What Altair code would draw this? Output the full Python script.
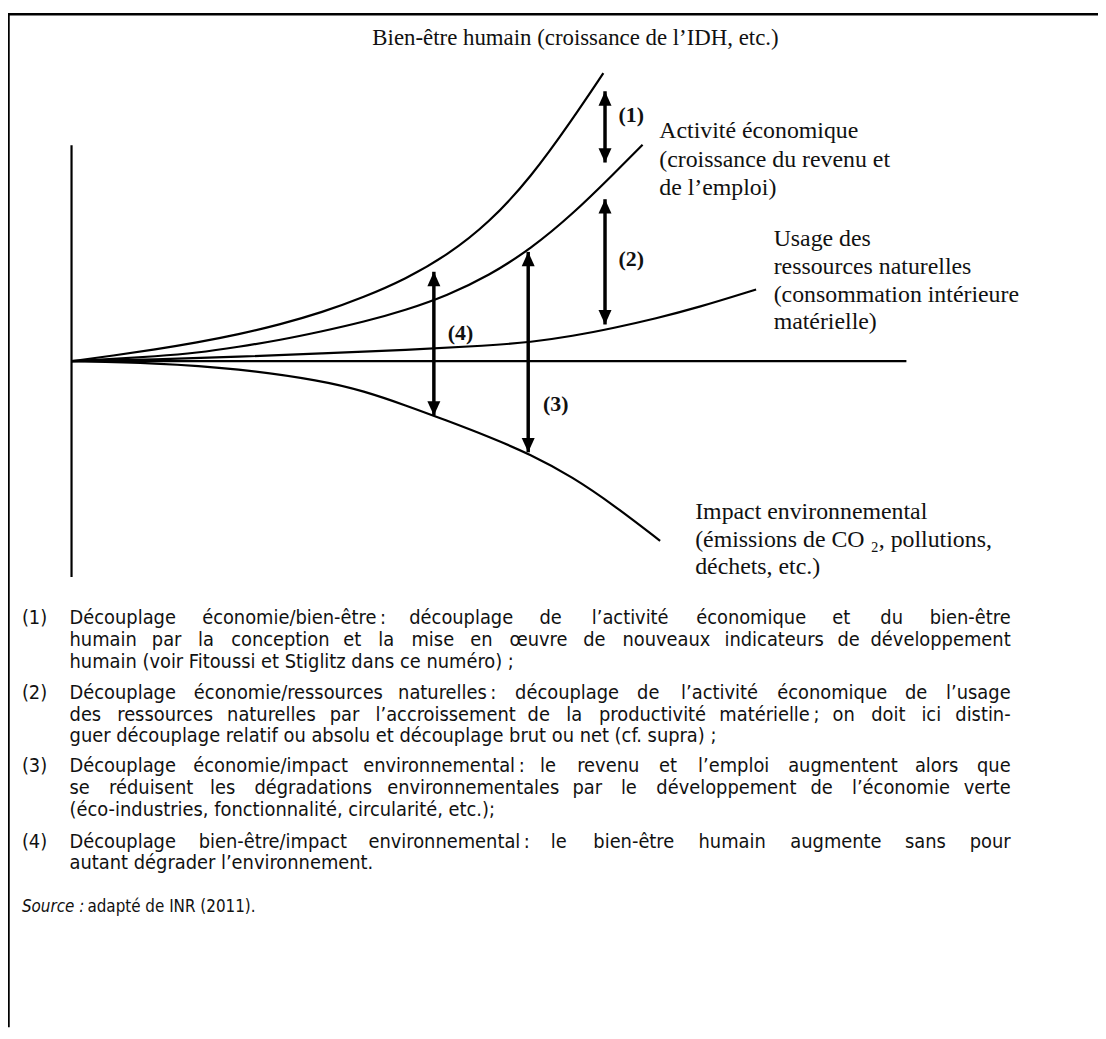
import altair as alt
import pandas as pd

# ---------------- data ----------------
bien_x = [0, 5, 10, 15, 20, 25, 30, 35, 40, 45, 50, 55, 60, 63.7]
bien_y = [0, 1.3, 2.7, 4.3, 6.2, 8.5, 11.3, 14.8, 19.0, 24.5, 32.0, 42.5, 56.0, 66.7]

act_x = [0, 5, 10, 15, 20, 25, 30, 35, 40, 45, 50, 55, 60, 65, 68.4]
act_y = [0, 0.5, 1.1, 1.9, 3.3, 4.9, 6.9, 9.1, 11.8, 15.2, 19.8, 26.0, 34.0, 43.5, 50.1]

usage_x = [0, 10, 20, 30, 40, 50, 55, 60, 65, 70, 75, 82]
usage_y = [0, 0.4, 1.0, 1.8, 2.6, 3.6, 4.4, 5.8, 7.7, 9.9, 12.4, 16.6]

impact_x = [0, 10, 20, 30, 35, 40, 45, 50, 55, 60, 65, 70.5]
impact_y = [0, -0.4, -1.7, -4.5, -6.9, -10.2, -13.8, -17.5, -21.6, -26.8, -33.4, -41.6]

# double arrows (1) (2) (3) (4)
arrow_x = [63.9, 63.9, 54.7, 43.4]
arrow_top = [62.5, 37.5, 25.3, 20.7]
arrow_bottom = [46.0, 8.5, -21.1, -12.6]

# axes of the diagram
axis_h = {"x": 0, "x2": 100, "y": 0, "y2": 0}
axis_v = {"x": 0, "x2": 0, "y": -50, "y2": 50}

title_text = "Bien-être humain (croissance de l’IDH, etc.)"
act_lines = ["Activité  économique", "(croissance du revenu et", "de l’emploi)"]
usage_lines = ["Usage des", "ressources naturelles", "(consommation intérieure", "matérielle)"]
impact_lines = ["Impact environnemental", "(émissions de CO ₂, pollutions,", "déchets, etc.)"]
num_labels = ["(1)", "(2)", "(3)", "(4)"]

notes = [
    ("(1)", ["Découplage économie/bien-être : découplage de l’activité économique et du bien-être",
             "humain par la conception et la mise en œuvre de nouveaux indicateurs de développement",
             "humain (voir Fitoussi et Stiglitz dans ce numéro) ;"]),
    ("(2)", ["Découplage économie/ressources naturelles : découplage de l’activité économique de l’usage",
             "des ressources naturelles par l’accroissement de la productivité matérielle ; on doit ici distin-",
             "guer découplage relatif ou absolu et découplage brut ou net (cf. supra) ;"]),
    ("(3)", ["Découplage économie/impact environnemental : le revenu et l’emploi augmentent alors que",
             "se réduisent les dégradations environnementales par le développement de l’économie verte",
             "(éco-industries, fonctionnalité, circularité, etc.);"]),
    ("(4)", ["Découplage bien-être/impact environnemental : le bien-être humain augmente sans pour",
             "autant dégrader l’environnement."]),
]
source_italic = "Source :"
source_rest = "adapté de INR (2011)."

# ---------------- layout ----------------
xs = alt.Scale(domain=[-7.61, 122.95], nice=False, zero=False)
ys = alt.Scale(domain=[-154.25, 80.92], nice=False, zero=False)
PX_X = 8.41          # pixels per x unit
X0_PX = 72           # pixel position of x = 0


def px_to_x(px):
    return (px - X0_PX) / PX_X


SERIF = "Liberation Serif, Times New Roman, serif"
SANS = "DejaVu Sans Condensed, Liberation Sans Narrow, Roboto Condensed, sans-serif"
NOTE_SIZE = 20

# approximate advance widths (em) used only to spread words of justified lines
CW = {" ": .318, "\u202f": .2, "(": .390, ")": .390, ",": .318, "-": .361, ".": .318, "/": .337,
      ":": .337, ";": .337, "’": .318, "D": .770, "F": .575, "I": .295, "N": .748, "R": .695,
      "S": .635, "C": .698, "a": .613, "b": .635, "c": .550, "d": .635, "e": .615, "f": .352,
      "g": .635, "h": .634, "i": .278, "j": .278, "k": .579, "l": .278, "m": .974, "n": .634,
      "o": .612, "p": .635, "q": .635, "r": .411, "s": .521, "t": .392, "u": .634, "v": .592,
      "w": .818, "x": .592, "y": .592, "z": .525, "é": .615, "è": .615, "ê": .615, "à": .613,
      "â": .613, "ô": .612, "î": .278, "û": .634, "ç": .550, "œ": 1.02}


def est_w(word):
    return sum(CW.get(c, 0.62) for c in word) * NOTE_SIZE * 0.86


def split_words(line):
    out = []
    for w in line.split(" "):
        if not w:
            continue
        if w in (":", ";") and out:
            out[-1] = out[-1] + "\u202f" + w
        else:
            out.append(w)
    return out


rows = []
for name, xv, yv in [("bien", bien_x, bien_y), ("act", act_x, act_y),
                     ("usage", usage_x, usage_y), ("impact", impact_x, impact_y)]:
    for i, (a, b) in enumerate(zip(xv, yv)):
        rows.append({"series": name, "x": a, "y": b, "o": i})
curves = pd.DataFrame(rows)


def X(f="x"):
    return alt.X(f"{f}:Q", scale=xs, axis=None)


def Y(f="y"):
    return alt.Y(f"{f}:Q", scale=ys, axis=None)


lines = alt.Chart(curves).mark_line(color="#000", strokeWidth=2.2, interpolate="basis").encode(
    x=X(), y=Y(), detail="series:N", order="o:Q")

axes = alt.Chart(pd.DataFrame([axis_h, axis_v])).mark_rule(color="#000", strokeWidth=2.2).encode(
    x=X(), x2="x2:Q", y=Y(), y2="y2:Q")

arrows = pd.DataFrame({"x": arrow_x, "top": arrow_top, "bot": arrow_bottom})
shafts = alt.Chart(arrows).mark_rule(color="#000", strokeWidth=3.5).encode(
    x=X(), y=Y("top"), y2="bot:Q")
head_up = alt.Chart(arrows).mark_point(shape="M0,0L-0.95,2.1L0.95,2.1Z", filled=True, opacity=1,
                                       color="#000", size=190, strokeWidth=0).encode(x=X(), y=Y("top"))
head_dn = alt.Chart(arrows).mark_point(shape="M0,0L-0.95,-2.1L0.95,-2.1Z", filled=True, opacity=1,
                                       color="#000", size=190, strokeWidth=0).encode(x=X(), y=Y("bot"))

# serif labels
title_df = pd.DataFrame([{"t": title_text, "x": 36.03, "y": 74.71}])
title_txt = alt.Chart(title_df).mark_text(
    align="left", baseline="middle", font=SERIF, fontSize=23, color="#111").encode(
    x=X(), y=Y(), text="t:N")

lab = []
for i, t in enumerate(act_lines):
    lab.append({"t": t, "x": 70.4, "y": 53.33 - i * 6.67})
for i, t in enumerate(usage_lines):
    lab.append({"t": t, "x": 84.1, "y": 28.28 - i * 6.44})
for i, t in enumerate(impact_lines):
    lab.append({"t": t, "x": 74.7, "y": -34.9 - i * 6.44})
serif_txt = alt.Chart(pd.DataFrame(lab)).mark_text(
    align="left", baseline="middle", font=SERIF, fontSize=24, color="#111").encode(
    x=X(), y=Y(), text="t:N")

num_pos = [(65.52, 57.01), (65.52, 23.68), (56.48, -9.89), (45.07, 6.44)]
nums = pd.DataFrame([{"t": t, "x": p[0], "y": p[1]} for t, p in zip(num_labels, num_pos)])
num_txt = alt.Chart(nums).mark_text(
    align="left", baseline="middle", font=SERIF, fontSize=22, fontWeight="bold", color="#111").encode(
    x=X(), y=Y(), text="t:N")

# notes: justified lines are spread word by word between the two margins
TEXT_L, TEXT_R = 70, 1018
note_left, note_right = [], []
note_start = [-59.54, -76.78, -93.79, -111.26]
for (num, ls), y0 in zip(notes, note_start):
    note_left.append({"t": num, "x": px_to_x(22), "y": y0})
    for j, t in enumerate(ls):
        y = y0 - j * 5.06
        if j == len(ls) - 1:
            note_left.append({"t": t, "x": px_to_x(TEXT_L), "y": y})
            continue
        words = split_words(t)
        widths = [est_w(w) for w in words]
        gap = (TEXT_R - TEXT_L - sum(widths)) / (len(words) - 1)
        pos = TEXT_L
        for k, (w, wd) in enumerate(zip(words, widths)):
            if k == len(words) - 1:
                note_right.append({"t": w, "x": px_to_x(TEXT_R), "y": y})
            else:
                note_left.append({"t": w, "x": px_to_x(pos), "y": y})
            pos += wd + gap

note_txt_l = alt.Chart(pd.DataFrame(note_left)).mark_text(
    align="left", baseline="middle", font=SANS, fontSize=NOTE_SIZE, color="#111").encode(
    x=X(), y=Y(), text="t:N")
note_txt_r = alt.Chart(pd.DataFrame(note_right)).mark_text(
    align="right", baseline="middle", font=SANS, fontSize=NOTE_SIZE, color="#111").encode(
    x=X(), y=Y(), text="t:N")

src_i = alt.Chart(pd.DataFrame([{"t": source_italic, "x": px_to_x(22), "y": -126.44}])).mark_text(
    align="left", baseline="middle", font=SANS, fontSize=17, fontStyle="italic", color="#111").encode(
    x=X(), y=Y(), text="t:N")
src_r = alt.Chart(pd.DataFrame([{"t": source_rest, "x": px_to_x(88), "y": -126.44}])).mark_text(
    align="left", baseline="middle", font=SANS, fontSize=17, color="#111").encode(
    x=X(), y=Y(), text="t:N")

# frame (decorative border of the figure)
frame_top = alt.Chart(pd.DataFrame([{"a": 0}])).mark_rule(color="#000", strokeWidth=2.5).encode(
    x=alt.value(0), x2=alt.value(1098), y=alt.value(2.5))
frame_left = alt.Chart(pd.DataFrame([{"a": 0}])).mark_rule(color="#000", strokeWidth=2.5).encode(
    x=alt.value(0.5), y=alt.value(2), y2=alt.value(1023))

chart = alt.layer(frame_top, frame_left, axes, lines, shafts, head_up, head_dn,
                  title_txt, serif_txt, num_txt, note_txt_l, note_txt_r, src_i, src_r).properties(
    width=1098, height=1023, padding=0, autosize="none", background="white"
).configure_view(stroke=None)

chart.save("out.html", embed_options={"renderer": "svg", "actions": False})
